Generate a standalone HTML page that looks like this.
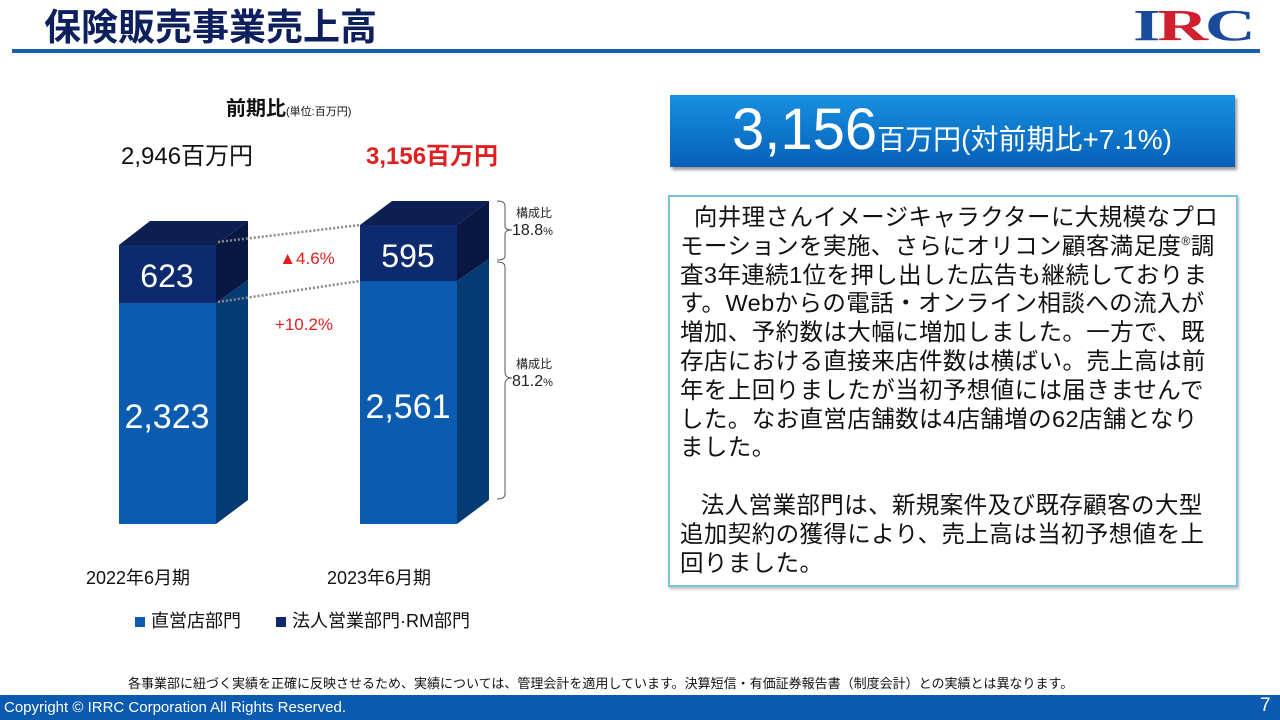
<!DOCTYPE html>
<html><head><meta charset="utf-8"><style>
body{margin:0;width:1280px;height:720px;position:relative;background:#fff;font-family:"Liberation Sans","Noto Sans CJK JP",sans-serif;overflow:hidden}
.a{position:absolute;white-space:nowrap}
</style></head><body>
<div class="a" style="left:44px;top:6px;font-size:37px;font-weight:bold;color:#0d1f5c;line-height:44px">保険販売事業売上高</div>
<div style="position:absolute;left:12px;top:49px;width:1248px;height:4px;background:#1a5fa8"></div>
<div class="a" style="left:1133px;top:0px;font-family:'Liberation Serif',serif;font-weight:bold;font-size:44px;color:#1a4a9a;letter-spacing:-2px;transform:scaleX(1.6);transform-origin:left">I<span style="color:#d02030">R</span>C</div>

<div class="a" style="left:226px;top:92px;font-size:20px;font-weight:bold;color:#111">前期比<span style="font-size:11px;font-weight:normal">(単位:百万円)</span></div>
<div class="a" style="left:121px;top:136px;font-size:24px;color:#111">2,946百万円</div>
<div class="a" style="left:366px;top:136px;font-size:24px;font-weight:bold;color:#e02020">3,156百万円</div>

<svg style="position:absolute;left:0;top:0" width="660" height="660">
<polygon points="119,245 150,221 248,221 216,245" fill="#0b1f52"/>
<polygon points="216,245 248,221 248,280 216,303" fill="#081842"/>
<polygon points="216,303 248,280 248,500 216,524" fill="#063a72"/>
<rect x="119" y="245" width="97" height="58" fill="#0d2a6e"/>
<rect x="119" y="303" width="97" height="221" fill="#0b5cb0"/>
<polygon points="360,225 392,201 489,201 457,225" fill="#0b1f52"/>
<polygon points="457,225 489,201 489,259 457,281" fill="#081842"/>
<polygon points="457,281 489,259 489,500 457,524" fill="#063a72"/>
<rect x="360" y="225" width="97" height="56" fill="#0d2a6e"/>
<rect x="360" y="281" width="97" height="243" fill="#0b5cb0"/>
<line x1="218" y1="242" x2="360" y2="225" stroke="#888" stroke-width="2.5" stroke-dasharray="2,2"/>
<line x1="218" y1="302" x2="360" y2="281" stroke="#888" stroke-width="2.5" stroke-dasharray="2,2"/>
<path d="M497,201 Q505,201 505,206 L505,226 Q505,230 512,230 Q505,230 505,234 L505,256 Q505,260 497,260" fill="none" stroke="#555" stroke-width="1"/>
<path d="M497,262 Q505,262 505,267 L505,372 Q505,378 512,378 Q505,378 505,384 L505,494 Q505,499 497,499" fill="none" stroke="#555" stroke-width="1"/>
<text x="167" y="287" text-anchor="middle" font-size="32" fill="#fff" font-family="Liberation Sans,sans-serif">623</text>
<text x="167" y="428" text-anchor="middle" font-size="34" fill="#fff" font-family="Liberation Sans,sans-serif">2,323</text>
<text x="408" y="267" text-anchor="middle" font-size="32" fill="#fff" font-family="Liberation Sans,sans-serif">595</text>
<text x="408" y="418" text-anchor="middle" font-size="34" fill="#fff" font-family="Liberation Sans,sans-serif">2,561</text>
<text x="307" y="264" text-anchor="middle" font-size="17" fill="#e02020" font-family="Liberation Sans,sans-serif">▲4.6%</text>
<text x="304" y="330" text-anchor="middle" font-size="17" fill="#e02020" font-family="Liberation Sans,sans-serif">+10.2%</text>
</svg>
<div class="a" style="left:516px;top:204px;font-size:12px;color:#222">構成比</div>
<div class="a" style="left:512px;top:222px;font-size:16px;color:#222">18.8<span style="font-size:11px">%</span></div>
<div class="a" style="left:516px;top:355px;font-size:12px;color:#222">構成比</div>
<div class="a" style="left:512px;top:373px;font-size:16px;color:#222">81.2<span style="font-size:11px">%</span></div>
<div class="a" style="left:86px;top:564px;font-size:18px;color:#111">2022年6月期</div>
<div class="a" style="left:327px;top:564px;font-size:18px;color:#111">2023年6月期</div>
<div class="a" style="left:135px;top:607px;font-size:18px;color:#111"><span style="display:inline-block;width:10px;height:10px;background:#0b5cb0;margin-right:6px"></span>直営店部門</div>
<div class="a" style="left:276px;top:607px;font-size:18px;color:#111"><span style="display:inline-block;width:10px;height:10px;background:#0d2a6e;margin-right:6px"></span>法人営業部門·RM部門</div>

<div style="position:absolute;left:670px;top:95px;width:565px;height:72px;background:linear-gradient(#1890e0,#0560b8);box-shadow:2px 3px 3px #999"></div>
<div class="a" style="left:732px;top:98px;font-size:58px;color:#fff;line-height:64px">3,156<span style="font-size:28px">百万円(対前期比+7.1%)</span></div>

<div style="position:absolute;left:668px;top:195px;width:566px;height:388px;border:2px solid #7cc4dc;box-shadow:1px 2px 3px #bbb"></div>
<div class="a" style="left:680px;top:203px;font-size:23.5px;line-height:28.8px;color:#111;letter-spacing:0.4px">
&nbsp;&nbsp;向井理さんイメージキャラクターに大規模なプロ<br>
モーションを実施、さらにオリコン顧客満足度<span style="font-size:12px;vertical-align:super;line-height:0">®</span>調<br>
査3年連続1位を押し出した広告も継続しておりま<br>
す。Webからの電話・オンライン相談への流入が<br>
増加、予約数は大幅に増加しました。一方で、既<br>
存店における直接来店件数は横ばい。売上高は前<br>
年を上回りましたが当初予想値には届きませんで<br>
した。なお直営店舗数は4店舗増の62店舗となり<br>
ました。<br>
<br>
&nbsp;&nbsp;&nbsp;法人営業部門は、新規案件及び既存顧客の大型<br>
追加契約の獲得により、売上高は当初予想値を上<br>
回りました。
</div>

<div class="a" style="left:128px;top:673px;font-size:13px;color:#111">各事業部に紐づく実績を正確に反映させるため、実績については、管理会計を適用しています。決算短信・有価証券報告書（制度会計）との実績とは異なります。</div>
<div style="position:absolute;left:0;top:695px;width:1280px;height:25px;background:#0a5bb0"></div>
<div class="a" style="left:4px;top:699px;font-size:15px;color:#fff">Copyright © IRRC Corporation All Rights Reserved.</div>
<div class="a" style="left:1260px;top:695px;font-size:19px;color:#fff">7</div>
</body></html>
